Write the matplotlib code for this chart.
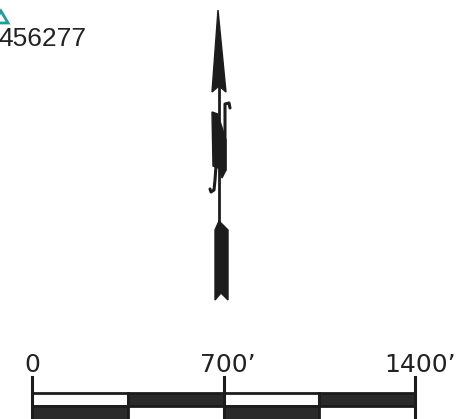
import matplotlib.pyplot as plt
import matplotlib.transforms as mtransforms
from matplotlib.patches import Polygon, Rectangle

# point id shown at the top left (partly cut off in the source)
point_label = "456277"
point_marker = [(-6, 23), (1, 11), (8, 23)]

# north arrow outline pieces, in image pixels (y grows downwards)
arrow_head = [(218, 10), (226, 92), (219, 86), (212, 92)]
arrow_shaft = [(219, 86), (219, 226)]
n_left_bar = [(212, 112), (218, 114), (218, 168), (213, 166)]
n_diagonal = [(214, 114), (219, 118), (226, 140), (226, 170), (222, 178), (218, 165), (214, 130)]
n_right_stem = [(230, 108), (229, 103), (225, 104), (225, 170)]
n_left_hook = [(216, 166), (215, 180), (214, 190), (211, 192), (210, 189)]
arrow_tail = [(219, 221), (228, 230), (228, 300), (221, 293), (215, 300), (215, 230)]

# scale bar, in feet
scale_ticks = [0, 700, 1400]
scale_labels = ["0", "700", "1400"]
scale_units = ["", "\u2019", "\u2019"]
segment_edges = [0, 350, 700, 1050, 1400]
top_row_dark = [False, True, False, True]

fig = plt.figure(figsize=(4.58, 4.19), dpi=100)
ax = fig.add_axes([0, 0, 1, 1])
ax.set_xlim(0, 458)
ax.set_ylim(419, 0)
ax.axis("off")

ax.add_patch(Polygon(point_marker, closed=True, fill=False,
                     edgecolor="#1f9d9d", linewidth=2))
ax.text(-2, 46, point_label, fontsize=19, family="Liberation Sans",
        color="#222222", ha="left", va="baseline")

ink = "#1c1c1c"
ax.add_patch(Polygon(arrow_head, closed=True, facecolor=ink, edgecolor=ink, linewidth=1))
ax.plot(*zip(*arrow_shaft), color=ink, linewidth=2)
ax.add_patch(Polygon(n_left_bar, closed=True, facecolor=ink, edgecolor=ink, linewidth=1))
ax.add_patch(Polygon(n_diagonal, closed=True, facecolor=ink, edgecolor=ink, linewidth=1))
ax.plot(*zip(*n_right_stem), color=ink, linewidth=2.2, solid_capstyle="round")
ax.plot(*zip(*n_left_hook), color=ink, linewidth=2.2, solid_capstyle="round")
ax.add_patch(Polygon(arrow_tail, closed=True, facecolor=ink, edgecolor=ink, linewidth=1))

# scale bar axes: x in feet, y in image pixel rows
left_px, right_px = 32, 415
sax = fig.add_axes([left_px / 458, 0, (right_px - left_px) / 458, 80 / 419])
sax.set_xlim(0, 1400)
sax.set_ylim(419, 339)
sax.axis("off")

row_top, row_mid, row_bottom = 393, 406, 420
for i in range(len(segment_edges) - 1):
    x0, x1 = segment_edges[i], segment_edges[i + 1]
    dark = top_row_dark[i]
    sax.add_patch(Rectangle((x0, row_top), x1 - x0, row_mid - row_top,
                            facecolor="#2a2a2a" if dark else "white",
                            edgecolor="#1c1c1c", linewidth=2, clip_on=False))
    sax.add_patch(Rectangle((x0, row_mid), x1 - x0, row_bottom - row_mid,
                            facecolor="white" if dark else "#2a2a2a",
                            edgecolor="#1c1c1c", linewidth=2, clip_on=False))

for tick, label, unit in zip(scale_ticks, scale_labels, scale_units):
    sax.plot([tick, tick], [377, row_bottom], color="#1c1c1c", linewidth=2.2,
             clip_on=False)
    shift = 3.4 if unit else 0
    trans = mtransforms.offset_copy(sax.transData, fig=fig, x=shift, y=0, units="points")
    sax.text(tick, 372, label + unit, fontsize=18, family="DejaVu Sans",
             color="#222222", ha="center", va="baseline", transform=trans,
             clip_on=False)

fig.savefig("out.png", dpi=100)
